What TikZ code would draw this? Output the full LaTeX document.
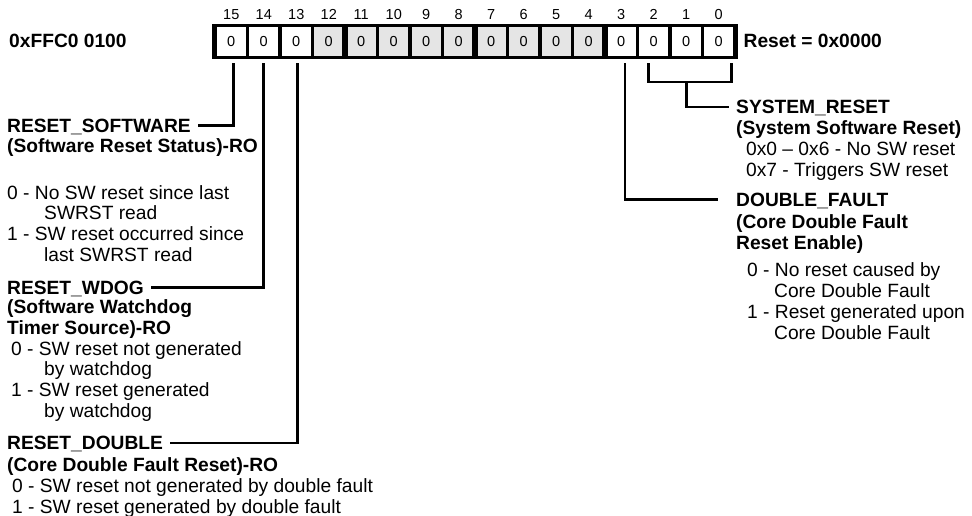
\documentclass[tikz,border=0pt]{standalone}
\usepackage{fontspec}
\setmainfont{Liberation Sans}
\usetikzlibrary{calc}

\begin{document}
\begin{tikzpicture}[x=1pt, y=-1pt,
    conn/.style={line width=2.7pt},
    cell/.style={minimum width=29.2pt, minimum height=29.3pt, inner sep=0pt, font=\fontsize{14.5}{16}\selectfont},
    bitnum/.style={anchor=base, inner sep=0pt, font=\fontsize{14.5}{16}\selectfont},
    regtitle/.style={anchor=base west, inner sep=0pt, font=\fontsize{19.2}{20.8}\selectfont\bfseries},
    regname/.style={anchor=west, inner xsep=7pt, inner ysep=0pt, text height=13.75pt, text depth=0pt, font=\fontsize{19.2}{20.8}\selectfont\bfseries},
    regdesc/.style={anchor=base west, align=left, inner sep=0pt, font=\fontsize{19.2}{20.8}\selectfont}]

    % Define register geometry
    \def\regLeft{215}
    \def\cellPitch{32.5}
    \def\regTop{24}
    \def\regBottom{59.3}

    \definecolor{reservedColour}{HTML}{E5E5E5}

    \useasboundingbox (0,0) rectangle (972,516);

    % Draw register frame
    \fill ({\regLeft-3.3},\regTop) rectangle ({\regLeft+16*\cellPitch+3.3},\regBottom);

    % Draw bit cells and bit numbers
    \foreach \i in {0,...,15} {
        \pgfmathtruncatemacro{\b}{15-\i}
        \ifnum\b>12 \def\cellColour{white}\else\ifnum\b<4 \def\cellColour{white}\else\def\cellColour{reservedColour}\fi\fi
        \node[cell, fill=\cellColour] (bit\b) at ({\regLeft+(\i+0.5)*\cellPitch},41.35) {0};
        \node[bitnum] (num\b) at ({\regLeft+(\i+0.5)*\cellPitch},19.7) {\b};
    }

    % Draw thick separators between nibbles
    \foreach \k in {4,8,12}
        \draw[line width=6.6pt] ({\regLeft+\k*\cellPitch},\regTop) -- ({\regLeft+\k*\cellPitch},\regBottom);

    % Address and reset value
    \node[regtitle] (addr) at (9,47.9) {0xFFC0 0100};
    \node[regtitle] (resetval) at (743.5,47.9) {Reset = 0x0000};

    % Left field names
    \node[regname] (swname) at (0,125.5) {RESET\_SOFTWARE};
    \node[regname] (wdname) at (0,287.5) {RESET\_WDOG};
    \node[regname] (dbname) at (0,443) {RESET\_DOUBLE};

    % Right field names
    \node[regname] (srname) at (729,107) {SYSTEM\_RESET};
    \node[regname] (dfname) at (729,199.5) {DOUBLE\_FAULT};

    % Field descriptions (anchored on their last line)
    \node[regdesc] (swdesc) at (7,261.4) {\textbf{(Software Reset Status)-RO}\\[25.7pt]
        0 - No SW reset since last\\
        \hspace*{37pt}SWRST read\\
        1 - SW reset occurred since\\
        \hspace*{37pt}last SWRST read};
    \node[regdesc] (wddesc) at (7,417.5) {\textbf{(Software Watchdog}\\
        \textbf{Timer Source)-RO}\\
        \hspace*{4pt}0 - SW reset not generated\\
        \hspace*{37pt}by watchdog\\
        \hspace*{4pt}1 - SW reset generated\\
        \hspace*{37pt}by watchdog};
    \node[regdesc] (dbdesc) at (7,513.1) {\textbf{(Core Double Fault Reset)-RO}\\
        \hspace*{5pt}0 - SW reset not generated by double fault\\
        \hspace*{5pt}1 - SW reset generated by double fault};
    \node[regdesc] (srdesc) at (736,176.5) {\textbf{(System Software Reset)}\\
        \hspace*{10pt}0x0 – 0x6 - No SW reset\\
        \hspace*{10pt}0x7 - Triggers SW reset};
    \node[regdesc] (dfdesc) at (736,339.3) {\textbf{(Core Double Fault}\\
        \textbf{Reset Enable)}\\[6.8pt]
        \hspace*{11pt}0 - No reset caused by\\
        \hspace*{38pt}Core Double Fault\\
        \hspace*{11pt}1 - Reset generated upon\\
        \hspace*{38pt}Core Double Fault};

    % Connectors from bits to field names
    \draw[conn] ($(bit15.south)+(2.25,7)$) |- (swname.east);
    \draw[conn] ($(bit14.south)+(0,7)$) |- (wdname.east);
    \draw[conn] ($(bit13.south)+(1,7)$) |- (dbname.east);
    \draw[conn] ($(bit3.south)+(3.75,7)$) |- ([xshift=-11pt]dfname.west);

    % Bracket over bits 2 to 0
    \coordinate (brkL) at ($(bit2.south)+(-5,7)$);
    \coordinate (brkR) at ($(bit0.south)+(13,7)$);
    \coordinate (brkBar) at ($(brkL)+(0,18.7)$);
    \draw[conn] (brkL) |- (brkR |- brkBar) -- (brkR);
    \draw[conn] (bit1 |- brkBar) |- (srname.west);

\end{tikzpicture}
\end{document}
